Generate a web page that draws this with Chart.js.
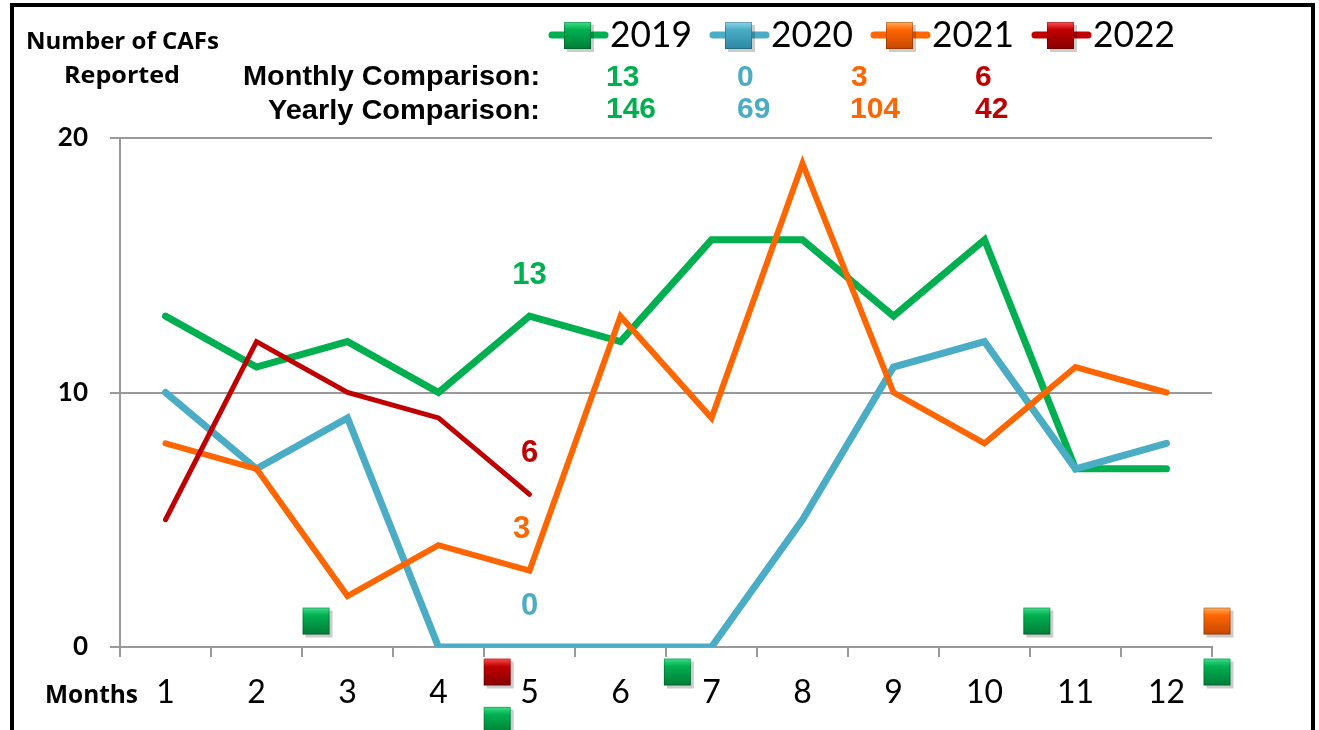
<!DOCTYPE html>
<html><head><meta charset="utf-8">
<script src="https://cdn.jsdelivr.net/npm/chart.js@4.4.1/dist/chart.umd.min.js"></script>
<style>html,body{margin:0;padding:0;background:#fff;overflow:hidden}#wrap{position:relative;width:1319px;height:730px}canvas{display:block}</style>
</head><body><div id="wrap"><canvas id="c" width="1319" height="730"></canvas></div>
<script>
// ---- data ----
const months = ['1','2','3','4','5','6','7','8','9','10','11','12'];
const yearLabels = ['2019','2020','2021','2022'];
const series2019 = [13,11,12,10,13,12,16,16,13,16,7,7];
const series2020 = [10,7,9,0,0,0,0,5,11,12,7,8];
const series2021 = [8,7,2,4,3,13,9,19,10,8,11,10];
const series2022 = [5,12,10,9,6];
const monthlyComparison = [13,0,3,6];
const yearlyComparison = [146,69,104,42];
const yTickValues = [0,10,20];
const labelMonthIndex = 4;
// stray marker squares seen in the picture (month position, value)
const strayGreen = [{x:2.66,y:1},{x:10.58,y:1},{x:6.63,y:-1},{x:12.56,y:-1},{x:4.65,y:-2.9}];
const strayRed = [{x:4.65,y:-1}];
const strayOrange = [{x:12.56,y:1}];

const COLORS = {g:'#00B050', b:'#4BACC6', o:'#FF6600', r:'#C00000'};
const SHADES = {
  g:['#3fe08a','#00B050','#00803a'],
  b:['#8fd8ec','#4BACC6','#2f8aa3'],
  o:['#ffb060','#FF6600','#c84a00'],
  r:['#ff5050','#C00000','#8a0000']
};

function squareImage(k){
  const s=27, c=document.createElement('canvas'); c.width=s+5; c.height=s+5;
  const g=c.getContext('2d');
  g.fillStyle='rgba(0,0,0,0.2)'; g.fillRect(4,4,s,s);
  const gr=g.createLinearGradient(0,1,0,s);
  gr.addColorStop(0,SHADES[k][0]); gr.addColorStop(0.3,SHADES[k][1]); gr.addColorStop(1,SHADES[k][2]);
  g.fillStyle=gr; g.fillRect(1,1,s,s);
  g.strokeStyle='rgba(0,0,0,0.22)'; g.lineWidth=1; g.strokeRect(1.5,1.5,s-1,s-1);
  return c;
}
const sq = {g:squareImage('g'), b:squareImage('b'), o:squareImage('o'), r:squareImage('r')};
const keys = ['g','b','o','r'];

// draw text so that it spans width w with cap height h, baseline at y
function fitBox(ctx, text, x, y, w, h, weight, family, color, align){
  ctx.save();
  ctx.font = weight+' 100px '+family;
  const capR = ctx.measureText('H').actualBoundingBoxAscent/100 || 0.72;
  const size = h/capR;
  ctx.font = weight+' '+size.toFixed(2)+'px '+family;
  const m = ctx.measureText(text).width;
  const sx = w/m;
  ctx.fillStyle = color; ctx.textBaseline='alphabetic'; ctx.textAlign='left';
  const left = align==='right' ? x - w : x;
  ctx.translate(left, y); ctx.scale(sx,1);
  ctx.fillText(text, 0, 0);
  ctx.restore();
}

const decor = {
  id:'decor',
  afterDatasetsDraw(chart){
    const ctx = chart.ctx;
    // data labels at month 5
    for(let i=0;i<4;i++){
      const meta = chart.getDatasetMeta(i);
      const pt = meta.data[labelMonthIndex];
      if(!pt) continue;
      const v = chart.data.datasets[i].data[labelMonthIndex];
      ctx.save();
      ctx.font='bold 31px "Liberation Sans", Arial, sans-serif';
      ctx.fillStyle=COLORS[keys[i]]; ctx.textAlign='center'; ctx.textBaseline='middle';
      ctx.fillText(String(v), pt.x + (i===2?-8:0), pt.y-41);
      ctx.restore();
    }
    // stray squares, placed through the chart's scales
    const xs = chart.scales.xl, ys = chart.scales.y;
    [[strayGreen,sq.g],[strayRed,sq.r],[strayOrange,sq.o]].forEach(([arr,img])=>{
      arr.forEach(p=>{
        const px = xs.getPixelForValue(p.x), py = ys.getPixelForValue(p.y);
        ctx.drawImage(img, px-15, py-15);
      });
    });
  },
  afterDraw(chart){
    const ctx = chart.ctx;
    // outer frame
    ctx.save(); ctx.strokeStyle='#000'; ctx.lineWidth=4; ctx.strokeRect(12,5,1301,800); ctx.restore();
    // legend
    for(let i=0;i<4;i++){
      const x0=548+161*i, y=35;
      ctx.save();
      ctx.strokeStyle=COLORS[keys[i]]; ctx.lineWidth=7; ctx.lineCap='round';
      ctx.beginPath(); ctx.moveTo(x0+4,y); ctx.lineTo(x0+57,y); ctx.stroke();
      ctx.drawImage(sq[keys[i]], x0+30-15, y-14);
      ctx.restore();
      fitBox(ctx, yearLabels[i], x0+62, 47, 82, 27, 'normal', 'Lato', '#000');
    }
    // titles
    fitBox(ctx,'Number of CAFs',26,49,193,16.5,'bold','"Open Sans"','#000');
    fitBox(ctx,'Reported',64,83,116,16.5,'bold','"Open Sans"','#000');
    fitBox(ctx,'Monthly Comparison:',540,85,297,19,'bold','"Liberation Sans"','#000','right');
    fitBox(ctx,'Yearly Comparison:',540,119,272,19,'bold','"Liberation Sans"','#000','right');
    fitBox(ctx,'Months',45,703,93,18.5,'bold','"Open Sans"','#000');
    const mx=[606,737,851,975], yx=[606,737,850,975];
    ctx.save();
    ctx.font='bold 30px "Liberation Sans", Arial, sans-serif'; ctx.textBaseline='alphabetic';
    for(let i=0;i<4;i++){
      ctx.fillStyle=COLORS[keys[i]];
      ctx.fillText(String(monthlyComparison[i]), mx[i], 86);
      ctx.fillText(String(yearlyComparison[i]), yx[i], 118);
    }
    ctx.restore();
  }
};

const lineDs = (label, data, color, w, order) => ({
  type:'line', label, data, borderColor:color, backgroundColor:color, borderWidth:w,
  pointRadius:0, pointHoverRadius:0, tension:0, fill:false, order,
  borderJoinStyle:'miter', borderCapStyle:'round', xAxisID:'x', yAxisID:'y'
});

new Chart(document.getElementById('c'), {
  data:{
    labels: months,
    datasets:[
      lineDs(yearLabels[0], series2019, COLORS.g, 7, 4),
      lineDs(yearLabels[1], series2020, COLORS.b, 7, 3),
      lineDs(yearLabels[2], series2021, COLORS.o, 6, 2),
      lineDs(yearLabels[3], series2022, COLORS.r, 5, 1)
    ]
  },
  options:{
    responsive:false, animation:false, events:[],
    layout:{padding:{top:138,right:107,left:0,bottom:0}},
    plugins:{legend:{display:false}, tooltip:{enabled:false}},
    scales:{
      x:{type:'category', offset:true,
        grid:{offset:true, drawOnChartArea:false, color:'#999', lineWidth:2, tickLength:10},
        border:{color:'#999', width:2},
        ticks:{font:{family:'Lato', size:32}, color:'#000', padding:16, maxRotation:0},
        afterFit:(s)=>{s.height=83;}
      },
      y:{min:0, max:20,
        afterBuildTicks:(s)=>{s.ticks=yTickValues.map(v=>({value:v}));},
        ticks:{font:{family:'Lato', weight:'bold', size:26}, color:'#000', padding:22},
        grid:{color:'#999', lineWidth:2, tickLength:10},
        border:{color:'#999', width:2},
        afterFit:(s)=>{s.width=120;}
      },
      xl:{type:'linear', display:false, min:0.5, max:12.5}
    }
  },
  plugins:[decor]
});
</script></body></html>
